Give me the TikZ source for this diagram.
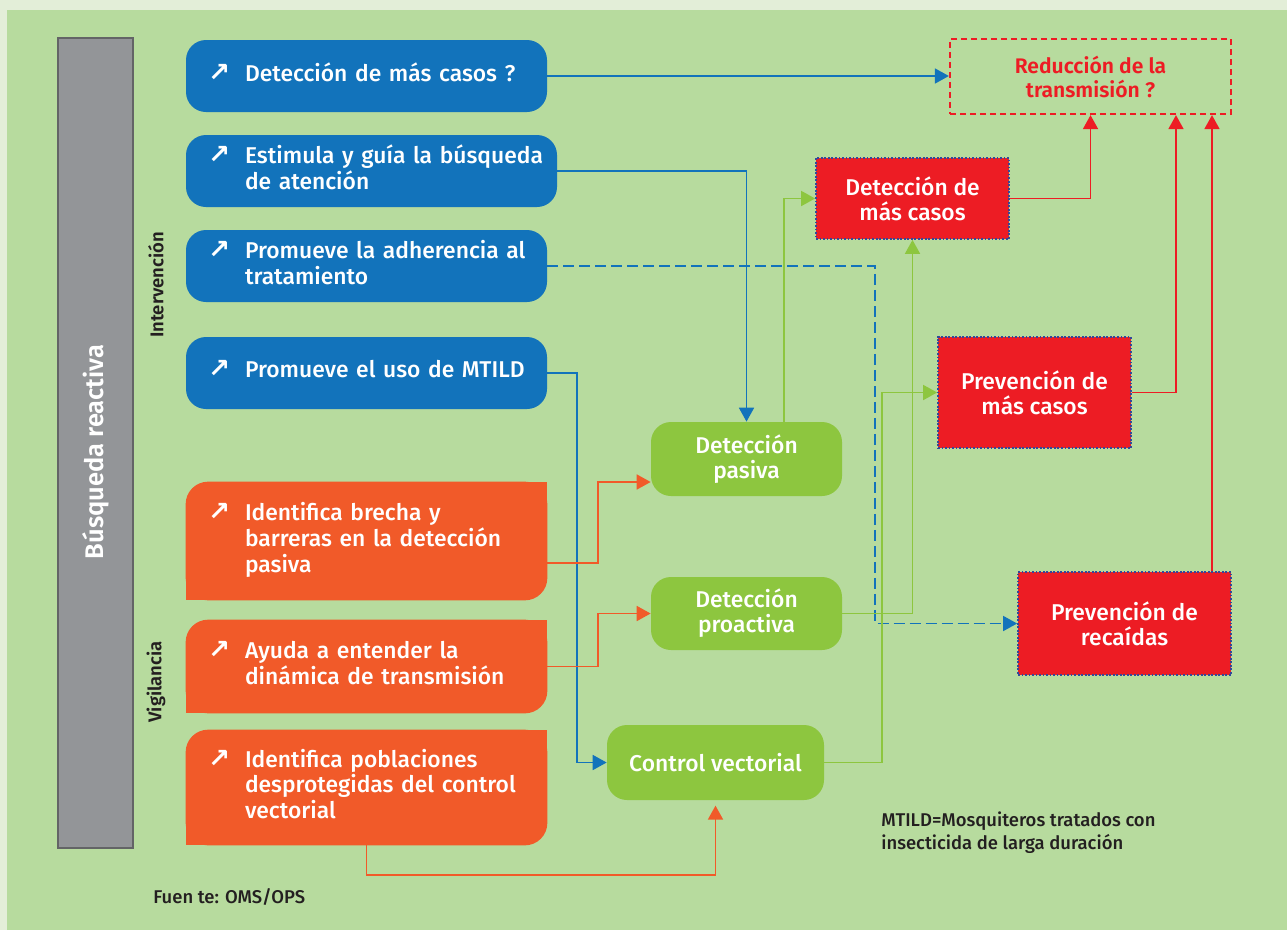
\documentclass[tikz,border=0pt]{standalone}
\usepackage{fontspec}
\setmainfont{Fira Sans}[UprightFont={* Medium}, BoldFont={* SemiBold}]
\newfontfamily\symfont{DejaVu Sans}
\usetikzlibrary{arrows.meta,backgrounds}

\definecolor{bgpale}{HTML}{E3EED8}
\definecolor{bggreen}{HTML}{B7DB9E}
\definecolor{blu}{HTML}{1273BB}
\definecolor{orng}{HTML}{F15A29}
\definecolor{lgreen}{HTML}{8DC63F}
\definecolor{rd}{HTML}{ED1C24}
\definecolor{barg}{HTML}{939598}
\definecolor{bardk}{HTML}{636466}
\definecolor{navy}{HTML}{34489A}
\definecolor{ink}{HTML}{231F20}

\newdimen\pxu \pxu=0.02cm
\newcommand{\arw}{{\symfont\bfseries\fontsize{15}{15}\selectfont ↗}}
\newcommand{\itm}[1]{\makebox[37\pxu][l]{\arw}\begin{tabular}[t]{@{}l@{}}#1\end{tabular}}

\tikzset{
  box/.style={minimum height=72\pxu, text=white, inner sep=0pt, font=\fontsize{13}{14.2}\selectfont},
  bbox/.style={box, fill=blu, rounded corners=0.4cm, minimum width=361\pxu, text width=317\pxu, align=left},
  obox/.style={box, minimum width=361\pxu, text width=317\pxu, align=left},
  gbox/.style={box, fill=lgreen, rounded corners=0.4cm, align=center},
  rbox/.style={box, fill=rd, draw=navy, densely dotted, line width=1pt, align=center},
  rdxbox/.style={draw=rd, dash pattern=on 6\pxu off 4\pxu, line width=1.3pt, text=rd, align=center,
    minimum width=281\pxu, minimum height=75\pxu, font=\bfseries\fontsize{12}{13.6}\selectfont},
  bar/.style={draw=bardk, line width=1.5pt, fill=barg, rotate=90, text=white,
    minimum width=810\pxu, minimum height=75\pxu, font=\bfseries\fontsize{14.5}{16}\selectfont},
  side/.style={rotate=90, text=ink, font=\bfseries\fontsize{10.5}{12}\selectfont},
  note/.style={text=ink, align=left, inner sep=0pt, font=\fontsize{10.5}{13}\selectfont},
  conn/.style={line width=1pt, -{Triangle[length=0.28cm,width=0.3cm]}},
  bline/.style={conn, blu},
  oline/.style={conn, orng},
  gline/.style={conn, lgreen},
  rline/.style={conn, rd},
  dashline/.style={dash pattern=on 0.22cm off 0.1cm}
}

\begin{document}
\begin{tikzpicture}[x=0.02cm, y=-0.02cm]
\useasboundingbox (0,0) rectangle (1287,930);

% left side
\node[bar] (bar) at (95.5,443) {Búsqueda reactiva\hspace*{0.36cm}};
\node[side] (lint) at (156,285) {Intervención};
\node[side] (lvig) at (156,682) {Vigilancia};

% intervention
\node[bbox] (b1) at (366.5,76) {\itm{Detección de más casos ?}};
\node[bbox, minimum width=371\pxu, text width=327\pxu] (b2) at (371.5,171) {\itm{Estimula y guía la búsqueda\\de atención}};
\node[bbox] (b3) at (366.5,266) {\itm{Promueve la adherencia al\\tratamiento}};
\node[bbox] (b4) at (366.5,373) {\itm{Promueve el uso de MTILD}};

% surveillance
\node[obox, minimum height=118\pxu] (ob1) at (366.5,541) {\itm{Identifica brecha y\\barreras en la detección\\pasiva}};
\node[obox, minimum height=93\pxu] (ob2) at (366.5,666.5) {\itm{Ayuda a entender la\\dinámica de transmisión}};
\node[obox, minimum height=115\pxu] (ob3) at (366.5,787.5) {\itm{Identifica poblaciones\\desprotegidas del control\\vectorial}};

% outcomes
\node[gbox, minimum width=191\pxu, minimum height=74\pxu] (dpas) at (746.5,459) {Detección\\pasiva};
\node[gbox, minimum width=191\pxu, minimum height=73\pxu] (dpro) at (746.5,613.5) {Detección\\proactiva};
\node[gbox, minimum width=217\pxu, minimum height=75\pxu] (cvec) at (715.5,762.5) {Control vectorial};
\node[rbox, minimum width=193\pxu, minimum height=81\pxu] (dmas) at (912.5,198.5) {Detección de\\más casos};
\node[rbox, minimum width=193\pxu, minimum height=111\pxu] (pmas) at (1034.5,392.5) {Prevención de\\más casos};
\node[rbox, minimum width=213\pxu, minimum height=103\pxu] (rec) at (1124.5,623.5) {Prevención de\\recaídas};
\node[rdxbox] (rdx) at (1090.5,76.5) {Reducción de la\\transmisión ?};

% notes
\node[note, anchor=west] (mtild) at (881,833) {MTILD=Mosquiteros tratados con\\insecticida de larga duración};
\node[note, anchor=west] (src) at (153,897) {Fuen te: OMS/OPS};

% connectors
\draw[bline] (b1.east) -- (b1.east -| rdx.west);
\draw[bline] (b2.east) -| (dpas.north);
\draw[bline, dashline] (b3.east) -- ++(328,0) |- (rec.west);
\draw[bline] (b4.east) -- ++(30,0) |- (cvec.west);
\draw[oline] ([yshift=-0.44cm]ob1.east) -- ++(51,0) |- ([yshift=-0.46cm]dpas.west);
\draw[oline] (ob2.east) -- ++(51,0) |- (dpro.west);
\draw[oline, shorten >=3pt] (ob3.south) -- ++(0,30) -| (cvec.south);
\draw[gline] ([xshift=0.75cm]dpas.north) |- (dmas.west);
\draw[gline] (dpro.east) -| (dmas.south);
\draw[gline] (cvec.east) -- ++(58,0) |- (pmas.west);
\draw[rline] (dmas.east) -| (rdx.south);
\draw[rline] (pmas.east) -| ([xshift=1.71cm]rdx.south);
\draw[rline] ([xshift=1.75cm]rec.north) -- ([xshift=1.75cm]rec.north |- rdx.south);

\begin{scope}[on background layer]
  \fill[bgpale] (0,0) rectangle (1287,930);
  \fill[bggreen] (7,10) rectangle (1287,930);
  \foreach \n in {ob1,ob2,ob3} {
    \fill[orng, rounded corners=0.45cm] (\n.south west) rectangle (\n.north east);
    \fill[orng] (\n.north east) rectangle ([xshift=-0.5cm,yshift=-0.5cm]\n.north east);
    \fill[orng] (\n.south west) rectangle ([xshift=0.5cm,yshift=0.5cm]\n.south west);
  }
\end{scope}
\end{tikzpicture}
\end{document}
